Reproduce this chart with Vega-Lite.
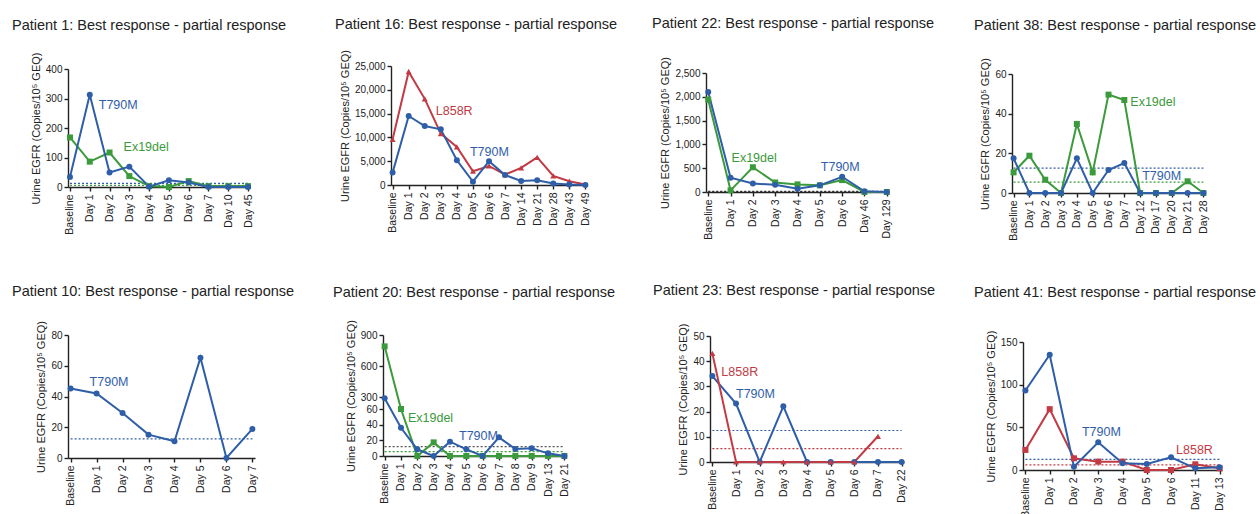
{
  "$schema": "https://vega.github.io/schema/vega-lite/v6.json",
  "padding": {"left": 12, "top": 16, "right": 5, "bottom": 5},
  "background": "white",
  "config": {
    "font": "Liberation Sans",
    "view": {"stroke": null},
    "legend": {"disable": true},
    "range": {"category": ["#3b9a3b", "#c23a44", "#2f5ea8"], "symbol": ["square", "triangle-up", "circle"]},
    "axis": {"grid": false, "domainColor": "#222", "domainWidth": 1.4, "tickColor": "#222", "tickWidth": 1.4, "tickSize": 4, "labelFontSize": 10.5, "labelColor": "#222", "titleFontSize": 11, "titleFontWeight": "normal", "titleColor": "#222", "titlePadding": 4, "labelPadding": 2},
    "axisX": {"labelAngle": -90, "labelPadding": 3},
    "axisY": {"labelFontSize": 10},
    "title": {"fontSize": 14.5, "fontWeight": "normal", "anchor": "start", "frame": "group", "color": "#222"},
    "text": {"font": "Liberation Sans", "fontSize": 12.5},
    "line": {"strokeWidth": 2},
    "point": {"filled": true, "size": 36, "opacity": 1}
  },
  "datasets": {
    "d": [
      {"patient": 1, "kind": "obs", "mutation": "Ex19del", "day": "Baseline", "value": 168},
      {"patient": 1, "kind": "obs", "mutation": "Ex19del", "day": "Day 1", "value": 86},
      {"patient": 1, "kind": "obs", "mutation": "Ex19del", "day": "Day 2", "value": 117},
      {"patient": 1, "kind": "obs", "mutation": "Ex19del", "day": "Day 3", "value": 37},
      {"patient": 1, "kind": "obs", "mutation": "Ex19del", "day": "Day 4", "value": 3},
      {"patient": 1, "kind": "obs", "mutation": "Ex19del", "day": "Day 5", "value": 0},
      {"patient": 1, "kind": "obs", "mutation": "Ex19del", "day": "Day 6", "value": 20},
      {"patient": 1, "kind": "obs", "mutation": "Ex19del", "day": "Day 7", "value": 3},
      {"patient": 1, "kind": "obs", "mutation": "Ex19del", "day": "Day 10", "value": 3},
      {"patient": 1, "kind": "obs", "mutation": "Ex19del", "day": "Day 45", "value": 3},
      {"patient": 1, "kind": "obs", "mutation": "T790M", "day": "Baseline", "value": 34},
      {"patient": 1, "kind": "obs", "mutation": "T790M", "day": "Day 1", "value": 313},
      {"patient": 1, "kind": "obs", "mutation": "T790M", "day": "Day 2", "value": 49},
      {"patient": 1, "kind": "obs", "mutation": "T790M", "day": "Day 3", "value": 69},
      {"patient": 1, "kind": "obs", "mutation": "T790M", "day": "Day 4", "value": 1},
      {"patient": 1, "kind": "obs", "mutation": "T790M", "day": "Day 5", "value": 23},
      {"patient": 1, "kind": "obs", "mutation": "T790M", "day": "Day 6", "value": 15},
      {"patient": 1, "kind": "obs", "mutation": "T790M", "day": "Day 7", "value": 0},
      {"patient": 1, "kind": "obs", "mutation": "T790M", "day": "Day 10", "value": 0},
      {"patient": 1, "kind": "obs", "mutation": "T790M", "day": "Day 45", "value": 0},
      {"patient": 1, "kind": "thr", "mutation": "T790M", "day": "Baseline", "end": "Day 45", "value": 12.5},
      {"patient": 1, "kind": "thr", "mutation": "Ex19del", "day": "Baseline", "end": "Day 45", "value": 5.5},
      {"patient": 1, "kind": "lab", "mutation": "T790M", "day": "Day 1", "value": 278, "text": "T790M"},
      {"patient": 1, "kind": "lab", "mutation": "Ex19del", "day": "Day 2", "value": 134, "text": "Ex19del"},

      {"patient": 16, "kind": "obs", "mutation": "L858R", "day": "Baseline", "value": 9600},
      {"patient": 16, "kind": "obs", "mutation": "L858R", "day": "Day 1", "value": 23800},
      {"patient": 16, "kind": "obs", "mutation": "L858R", "day": "Day 2", "value": 18100},
      {"patient": 16, "kind": "obs", "mutation": "L858R", "day": "Day 3", "value": 10800},
      {"patient": 16, "kind": "obs", "mutation": "L858R", "day": "Day 4", "value": 8000},
      {"patient": 16, "kind": "obs", "mutation": "L858R", "day": "Day 5", "value": 2900},
      {"patient": 16, "kind": "obs", "mutation": "L858R", "day": "Day 6", "value": 4000},
      {"patient": 16, "kind": "obs", "mutation": "L858R", "day": "Day 7", "value": 2200},
      {"patient": 16, "kind": "obs", "mutation": "L858R", "day": "Day 14", "value": 3600},
      {"patient": 16, "kind": "obs", "mutation": "L858R", "day": "Day 21", "value": 5800},
      {"patient": 16, "kind": "obs", "mutation": "L858R", "day": "Day 28", "value": 1900},
      {"patient": 16, "kind": "obs", "mutation": "L858R", "day": "Day 43", "value": 800},
      {"patient": 16, "kind": "obs", "mutation": "L858R", "day": "Day 49", "value": 100},
      {"patient": 16, "kind": "obs", "mutation": "T790M", "day": "Baseline", "value": 2600},
      {"patient": 16, "kind": "obs", "mutation": "T790M", "day": "Day 1", "value": 14500},
      {"patient": 16, "kind": "obs", "mutation": "T790M", "day": "Day 2", "value": 12400},
      {"patient": 16, "kind": "obs", "mutation": "T790M", "day": "Day 3", "value": 11700},
      {"patient": 16, "kind": "obs", "mutation": "T790M", "day": "Day 4", "value": 5200},
      {"patient": 16, "kind": "obs", "mutation": "T790M", "day": "Day 5", "value": 700},
      {"patient": 16, "kind": "obs", "mutation": "T790M", "day": "Day 6", "value": 5000},
      {"patient": 16, "kind": "obs", "mutation": "T790M", "day": "Day 7", "value": 2100},
      {"patient": 16, "kind": "obs", "mutation": "T790M", "day": "Day 14", "value": 850},
      {"patient": 16, "kind": "obs", "mutation": "T790M", "day": "Day 21", "value": 1000},
      {"patient": 16, "kind": "obs", "mutation": "T790M", "day": "Day 28", "value": 300},
      {"patient": 16, "kind": "obs", "mutation": "T790M", "day": "Day 43", "value": 100},
      {"patient": 16, "kind": "obs", "mutation": "T790M", "day": "Day 49", "value": 0},
      {"patient": 16, "kind": "lab", "mutation": "L858R", "day": "Day 3", "value": 15550, "text": "L858R"},
      {"patient": 16, "kind": "lab", "mutation": "T790M", "day": "Day 5", "value": 7000, "text": "T790M"},

      {"patient": 22, "kind": "obs", "mutation": "Ex19del", "day": "Baseline", "value": 1940},
      {"patient": 22, "kind": "obs", "mutation": "Ex19del", "day": "Day 1", "value": 35},
      {"patient": 22, "kind": "obs", "mutation": "Ex19del", "day": "Day 2", "value": 520},
      {"patient": 22, "kind": "obs", "mutation": "Ex19del", "day": "Day 3", "value": 200},
      {"patient": 22, "kind": "obs", "mutation": "Ex19del", "day": "Day 4", "value": 160},
      {"patient": 22, "kind": "obs", "mutation": "Ex19del", "day": "Day 5", "value": 140},
      {"patient": 22, "kind": "obs", "mutation": "Ex19del", "day": "Day 6", "value": 250},
      {"patient": 22, "kind": "obs", "mutation": "Ex19del", "day": "Day 46", "value": 0},
      {"patient": 22, "kind": "obs", "mutation": "Ex19del", "day": "Day 129", "value": 0},
      {"patient": 22, "kind": "obs", "mutation": "T790M", "day": "Baseline", "value": 2100},
      {"patient": 22, "kind": "obs", "mutation": "T790M", "day": "Day 1", "value": 300},
      {"patient": 22, "kind": "obs", "mutation": "T790M", "day": "Day 2", "value": 180},
      {"patient": 22, "kind": "obs", "mutation": "T790M", "day": "Day 3", "value": 150},
      {"patient": 22, "kind": "obs", "mutation": "T790M", "day": "Day 4", "value": 70},
      {"patient": 22, "kind": "obs", "mutation": "T790M", "day": "Day 5", "value": 140},
      {"patient": 22, "kind": "obs", "mutation": "T790M", "day": "Day 6", "value": 320},
      {"patient": 22, "kind": "obs", "mutation": "T790M", "day": "Day 46", "value": 14},
      {"patient": 22, "kind": "obs", "mutation": "T790M", "day": "Day 129", "value": 0},
      {"patient": 22, "kind": "thr", "mutation": "T790M", "day": "Baseline", "end": "Day 129", "value": 12.5},
      {"patient": 22, "kind": "thr", "mutation": "Ex19del", "day": "Baseline", "end": "Day 129", "value": 5.5},
      {"patient": 22, "kind": "lab", "mutation": "Ex19del", "day": "Day 1", "value": 720, "text": "Ex19del"},
      {"patient": 22, "kind": "lab", "mutation": "T790M", "day": "Day 5", "value": 530, "text": "T790M"},

      {"patient": 38, "kind": "obs", "mutation": "Ex19del", "day": "Baseline", "value": 10.4},
      {"patient": 38, "kind": "obs", "mutation": "Ex19del", "day": "Day 1", "value": 18.8},
      {"patient": 38, "kind": "obs", "mutation": "Ex19del", "day": "Day 2", "value": 6.7},
      {"patient": 38, "kind": "obs", "mutation": "Ex19del", "day": "Day 3", "value": 0},
      {"patient": 38, "kind": "obs", "mutation": "Ex19del", "day": "Day 4", "value": 34.8},
      {"patient": 38, "kind": "obs", "mutation": "Ex19del", "day": "Day 5", "value": 10.4},
      {"patient": 38, "kind": "obs", "mutation": "Ex19del", "day": "Day 6", "value": 49.6},
      {"patient": 38, "kind": "obs", "mutation": "Ex19del", "day": "Day 7", "value": 46.9},
      {"patient": 38, "kind": "obs", "mutation": "Ex19del", "day": "Day 12", "value": 0},
      {"patient": 38, "kind": "obs", "mutation": "Ex19del", "day": "Day 17", "value": 0},
      {"patient": 38, "kind": "obs", "mutation": "Ex19del", "day": "Day 20", "value": 0},
      {"patient": 38, "kind": "obs", "mutation": "Ex19del", "day": "Day 21", "value": 5.9},
      {"patient": 38, "kind": "obs", "mutation": "Ex19del", "day": "Day 28", "value": 0},
      {"patient": 38, "kind": "obs", "mutation": "T790M", "day": "Baseline", "value": 17.5},
      {"patient": 38, "kind": "obs", "mutation": "T790M", "day": "Day 1", "value": 0},
      {"patient": 38, "kind": "obs", "mutation": "T790M", "day": "Day 2", "value": 0},
      {"patient": 38, "kind": "obs", "mutation": "T790M", "day": "Day 3", "value": 0},
      {"patient": 38, "kind": "obs", "mutation": "T790M", "day": "Day 4", "value": 17.5},
      {"patient": 38, "kind": "obs", "mutation": "T790M", "day": "Day 5", "value": 0},
      {"patient": 38, "kind": "obs", "mutation": "T790M", "day": "Day 6", "value": 11.6},
      {"patient": 38, "kind": "obs", "mutation": "T790M", "day": "Day 7", "value": 15.1},
      {"patient": 38, "kind": "obs", "mutation": "T790M", "day": "Day 12", "value": 0},
      {"patient": 38, "kind": "obs", "mutation": "T790M", "day": "Day 17", "value": 0},
      {"patient": 38, "kind": "obs", "mutation": "T790M", "day": "Day 20", "value": 0},
      {"patient": 38, "kind": "obs", "mutation": "T790M", "day": "Day 21", "value": 0},
      {"patient": 38, "kind": "obs", "mutation": "T790M", "day": "Day 28", "value": 0},
      {"patient": 38, "kind": "thr", "mutation": "T790M", "day": "Baseline", "end": "Day 28", "value": 12.5},
      {"patient": 38, "kind": "thr", "mutation": "Ex19del", "day": "Baseline", "end": "Day 28", "value": 5.5},
      {"patient": 38, "kind": "lab", "mutation": "Ex19del", "day": "Day 7", "value": 46, "text": "Ex19del"},
      {"patient": 38, "kind": "lab", "mutation": "T790M", "day": "Day 12", "value": 8.7, "text": "T790M"},

      {"patient": 10, "kind": "obs", "mutation": "T790M", "day": "Baseline", "value": 45.2},
      {"patient": 10, "kind": "obs", "mutation": "T790M", "day": "Day 1", "value": 42},
      {"patient": 10, "kind": "obs", "mutation": "T790M", "day": "Day 2", "value": 29.3},
      {"patient": 10, "kind": "obs", "mutation": "T790M", "day": "Day 3", "value": 15.2},
      {"patient": 10, "kind": "obs", "mutation": "T790M", "day": "Day 4", "value": 10.9},
      {"patient": 10, "kind": "obs", "mutation": "T790M", "day": "Day 5", "value": 65.2},
      {"patient": 10, "kind": "obs", "mutation": "T790M", "day": "Day 6", "value": 0},
      {"patient": 10, "kind": "obs", "mutation": "T790M", "day": "Day 7", "value": 18.9},
      {"patient": 10, "kind": "thr", "mutation": "T790M", "day": "Baseline", "end": "Day 7", "value": 12.5},
      {"patient": 10, "kind": "lab", "mutation": "T790M", "day": "Baseline", "value": 49.3, "text": "T790M"},

      {"patient": 20, "kind": "obs", "mutation": "Ex19del", "day": "Baseline", "value": 790},
      {"patient": 20, "kind": "obs", "mutation": "Ex19del", "day": "Day 1", "value": 60},
      {"patient": 20, "kind": "obs", "mutation": "Ex19del", "day": "Day 2", "value": 0},
      {"patient": 20, "kind": "obs", "mutation": "Ex19del", "day": "Day 3", "value": 17.4},
      {"patient": 20, "kind": "obs", "mutation": "Ex19del", "day": "Day 4", "value": 0},
      {"patient": 20, "kind": "obs", "mutation": "Ex19del", "day": "Day 5", "value": 0},
      {"patient": 20, "kind": "obs", "mutation": "Ex19del", "day": "Day 6", "value": 0},
      {"patient": 20, "kind": "obs", "mutation": "Ex19del", "day": "Day 7", "value": 0},
      {"patient": 20, "kind": "obs", "mutation": "Ex19del", "day": "Day 8", "value": 0},
      {"patient": 20, "kind": "obs", "mutation": "Ex19del", "day": "Day 9", "value": 0},
      {"patient": 20, "kind": "obs", "mutation": "Ex19del", "day": "Day 13", "value": 0},
      {"patient": 20, "kind": "obs", "mutation": "Ex19del", "day": "Day 21", "value": 0},
      {"patient": 20, "kind": "obs", "mutation": "T790M", "day": "Baseline", "value": 275},
      {"patient": 20, "kind": "obs", "mutation": "T790M", "day": "Day 1", "value": 36},
      {"patient": 20, "kind": "obs", "mutation": "T790M", "day": "Day 2", "value": 8.5},
      {"patient": 20, "kind": "obs", "mutation": "T790M", "day": "Day 3", "value": 0},
      {"patient": 20, "kind": "obs", "mutation": "T790M", "day": "Day 4", "value": 18.3},
      {"patient": 20, "kind": "obs", "mutation": "T790M", "day": "Day 5", "value": 8.5},
      {"patient": 20, "kind": "obs", "mutation": "T790M", "day": "Day 6", "value": 0},
      {"patient": 20, "kind": "obs", "mutation": "T790M", "day": "Day 7", "value": 23.8},
      {"patient": 20, "kind": "obs", "mutation": "T790M", "day": "Day 8", "value": 9},
      {"patient": 20, "kind": "obs", "mutation": "T790M", "day": "Day 9", "value": 9.8},
      {"patient": 20, "kind": "obs", "mutation": "T790M", "day": "Day 13", "value": 3.4},
      {"patient": 20, "kind": "obs", "mutation": "T790M", "day": "Day 21", "value": 0},
      {"patient": 20, "kind": "thr", "mutation": "T790M", "day": "Baseline", "end": "Day 21", "value": 12},
      {"patient": 20, "kind": "thr", "mutation": "Ex19del", "day": "Baseline", "end": "Day 21", "value": 5.5},
      {"patient": 20, "kind": "lab", "mutation": "Ex19del", "day": "Day 1", "value": 48, "text": "Ex19del"},
      {"patient": 20, "kind": "lab", "mutation": "T790M", "day": "Day 4", "value": 26, "text": "T790M"},

      {"patient": 23, "kind": "obs", "mutation": "T790M", "day": "Baseline", "value": 34.1},
      {"patient": 23, "kind": "obs", "mutation": "T790M", "day": "Day 1", "value": 23.2},
      {"patient": 23, "kind": "obs", "mutation": "T790M", "day": "Day 2", "value": 0},
      {"patient": 23, "kind": "obs", "mutation": "T790M", "day": "Day 3", "value": 22.1},
      {"patient": 23, "kind": "obs", "mutation": "T790M", "day": "Day 4", "value": 0},
      {"patient": 23, "kind": "obs", "mutation": "T790M", "day": "Day 5", "value": 0},
      {"patient": 23, "kind": "obs", "mutation": "T790M", "day": "Day 6", "value": 0},
      {"patient": 23, "kind": "obs", "mutation": "T790M", "day": "Day 7", "value": 0},
      {"patient": 23, "kind": "obs", "mutation": "T790M", "day": "Day 22", "value": 0},
      {"patient": 23, "kind": "obs", "mutation": "L858R", "day": "Baseline", "value": 43.1},
      {"patient": 23, "kind": "obs", "mutation": "L858R", "day": "Day 1", "value": 0},
      {"patient": 23, "kind": "obs", "mutation": "L858R", "day": "Day 2", "value": 0},
      {"patient": 23, "kind": "obs", "mutation": "L858R", "day": "Day 3", "value": 0},
      {"patient": 23, "kind": "obs", "mutation": "L858R", "day": "Day 4", "value": 0},
      {"patient": 23, "kind": "obs", "mutation": "L858R", "day": "Day 5", "value": 0},
      {"patient": 23, "kind": "obs", "mutation": "L858R", "day": "Day 6", "value": 0},
      {"patient": 23, "kind": "obs", "mutation": "L858R", "day": "Day 7", "value": 10.2},
      {"patient": 23, "kind": "thr", "mutation": "T790M", "day": "Baseline", "end": "Day 22", "value": 12.5},
      {"patient": 23, "kind": "thr", "mutation": "L858R", "day": "Baseline", "end": "Day 22", "value": 5.3},
      {"patient": 23, "kind": "lab", "mutation": "L858R", "day": "Baseline", "value": 35.7, "text": "L858R"},
      {"patient": 23, "kind": "lab", "mutation": "T790M", "day": "Day 1", "value": 26.8, "text": "T790M"},

      {"patient": 41, "kind": "obs", "mutation": "L858R", "day": "Baseline", "value": 23.5},
      {"patient": 41, "kind": "obs", "mutation": "L858R", "day": "Day 1", "value": 71.3},
      {"patient": 41, "kind": "obs", "mutation": "L858R", "day": "Day 2", "value": 13.7},
      {"patient": 41, "kind": "obs", "mutation": "L858R", "day": "Day 3", "value": 9.8},
      {"patient": 41, "kind": "obs", "mutation": "L858R", "day": "Day 4", "value": 9.8},
      {"patient": 41, "kind": "obs", "mutation": "L858R", "day": "Day 5", "value": 0},
      {"patient": 41, "kind": "obs", "mutation": "L858R", "day": "Day 6", "value": 0},
      {"patient": 41, "kind": "obs", "mutation": "L858R", "day": "Day 11", "value": 6.7},
      {"patient": 41, "kind": "obs", "mutation": "L858R", "day": "Day 13", "value": 2},
      {"patient": 41, "kind": "obs", "mutation": "T790M", "day": "Baseline", "value": 93.2},
      {"patient": 41, "kind": "obs", "mutation": "T790M", "day": "Day 1", "value": 135},
      {"patient": 41, "kind": "obs", "mutation": "T790M", "day": "Day 2", "value": 3.9},
      {"patient": 41, "kind": "obs", "mutation": "T790M", "day": "Day 3", "value": 32.5},
      {"patient": 41, "kind": "obs", "mutation": "T790M", "day": "Day 4", "value": 7.8},
      {"patient": 41, "kind": "obs", "mutation": "T790M", "day": "Day 5", "value": 7},
      {"patient": 41, "kind": "obs", "mutation": "T790M", "day": "Day 6", "value": 14.9},
      {"patient": 41, "kind": "obs", "mutation": "T790M", "day": "Day 11", "value": 2},
      {"patient": 41, "kind": "obs", "mutation": "T790M", "day": "Day 13", "value": 3.1},
      {"patient": 41, "kind": "thr", "mutation": "T790M", "day": "Baseline", "end": "Day 13", "value": 12.5},
      {"patient": 41, "kind": "thr", "mutation": "L858R", "day": "Baseline", "end": "Day 13", "value": 5.9},
      {"patient": 41, "kind": "lab", "mutation": "T790M", "day": "Day 2", "value": 44, "text": "T790M"},
      {"patient": 41, "kind": "lab", "mutation": "L858R", "day": "Day 6", "value": 23.5, "text": "L858R"}
    ]
  },
  "data": {"name": "d"},
  "columns": 4,
  "spacing": {"row": 142, "column": 0},
  "bounds": "flush",
  "align": "each",
  "concat": [
    {
      "width": 315, "height": 121,
      "title": {"text": "Patient 1: Best response - partial response", "dx": -56, "offset": 19},
      "transform": [{"filter": "datum.patient == 1"}],
      "encoding": {
        "x": {"field": "day", "type": "ordinal", "scale": {"type": "point", "domain": ["Baseline", "Day 1", "Day 2", "Day 3", "Day 4", "Day 5", "Day 6", "Day 7", "Day 10", "Day 45"], "range": [0, 182], "padding": 0.1}, "axis": {"title": null}},
        "y": {"field": "value", "type": "quantitative", "scale": {"domain": [0, 400], "range": [121, 3], "nice": false, "zero": false}, "axis": {"values": [0, 100, 200, 300, 400], "title": "Urine EGFR (Copies/10⁵ GEQ)"}}
      },
      "layer": [
        {"transform": [{"filter": "datum.kind == 'thr'"}], "mark": {"type": "rule", "strokeDash": [2, 2], "strokeWidth": 1.2}, "encoding": {"x2": {"field": "end"}, "color": {"field": "mutation", "type": "nominal"}}},
        {"transform": [{"filter": "datum.kind == 'obs'"}], "mark": "line", "encoding": {"color": {"field": "mutation", "type": "nominal"}, "order": {"value": null}}},
        {"transform": [{"filter": "datum.kind == 'obs'"}], "mark": "point", "encoding": {"color": {"field": "mutation", "type": "nominal"}, "shape": {"field": "mutation", "type": "nominal"}}},
        {"transform": [{"filter": "datum.kind == 'lab' && datum.mutation == 'T790M'"}], "mark": {"type": "text", "align": "left", "dx": 9}, "encoding": {"text": {"field": "text"}, "color": {"field": "mutation", "type": "nominal"}}},
        {"transform": [{"filter": "datum.kind == 'lab' && datum.mutation == 'Ex19del'"}], "mark": {"type": "text", "align": "left", "dx": 14}, "encoding": {"text": {"field": "text"}, "color": {"field": "mutation", "type": "nominal"}}}
      ]
    },
    {
      "width": 323, "height": 119,
      "title": {"text": "Patient 16: Best response - partial response", "dx": -48, "offset": 17},
      "transform": [{"filter": "datum.patient == 16"}],
      "encoding": {
        "x": {"field": "day", "type": "ordinal", "scale": {"type": "point", "domain": ["Baseline", "Day 1", "Day 2", "Day 3", "Day 4", "Day 5", "Day 6", "Day 7", "Day 14", "Day 21", "Day 28", "Day 43", "Day 49"], "range": [8, 204], "padding": 0.1}, "axis": {"title": null}},
        "y": {"field": "value", "type": "quantitative", "scale": {"domain": [0, 25000], "range": [119, 0], "nice": false, "zero": false}, "axis": {"values": [0, 5000, 10000, 15000, 20000, 25000], "format": ",.0f", "offset": -8, "title": "Urine EGFR (Copies/10⁵ GEQ)"}}
      },
      "layer": [
        {"transform": [{"filter": "datum.kind == 'obs'"}], "mark": "line", "encoding": {"color": {"field": "mutation", "type": "nominal"}, "order": {"value": null}}},
        {"transform": [{"filter": "datum.kind == 'obs'"}], "mark": "point", "encoding": {"color": {"field": "mutation", "type": "nominal"}, "shape": {"field": "mutation", "type": "nominal"}}},
        {"transform": [{"filter": "datum.kind == 'lab' && datum.mutation == 'L858R'"}], "mark": {"type": "text", "align": "left", "dx": -5}, "encoding": {"text": {"field": "text"}, "color": {"field": "mutation", "type": "nominal"}}},
        {"transform": [{"filter": "datum.kind == 'lab' && datum.mutation == 'T790M'"}], "mark": {"type": "text", "align": "left", "dx": -3}, "encoding": {"text": {"field": "text"}, "color": {"field": "mutation", "type": "nominal"}}}
      ]
    },
    {
      "width": 306, "height": 126,
      "title": {"text": "Patient 22: Best response - partial response", "dx": -54, "offset": 25},
      "transform": [{"filter": "datum.patient == 22"}],
      "encoding": {
        "x": {"field": "day", "type": "ordinal", "scale": {"type": "point", "domain": ["Baseline", "Day 1", "Day 2", "Day 3", "Day 4", "Day 5", "Day 6", "Day 46", "Day 129"], "range": [0, 183], "padding": 0.1}, "axis": {"title": null}},
        "y": {"field": "value", "type": "quantitative", "scale": {"domain": [0, 2500], "range": [126, 7], "nice": false, "zero": false}, "axis": {"values": [0, 500, 1000, 1500, 2000, 2500], "format": ",.0f", "title": "Urine EGFR (Copies/10⁵ GEQ)"}}
      },
      "layer": [
        {"transform": [{"filter": "datum.kind == 'thr'"}], "mark": {"type": "rule", "strokeDash": [2, 2], "strokeWidth": 1.2, "color": "#333"}, "encoding": {"x2": {"field": "end"}}},
        {"transform": [{"filter": "datum.kind == 'obs'"}], "mark": "line", "encoding": {"color": {"field": "mutation", "type": "nominal"}, "order": {"value": null}}},
        {"transform": [{"filter": "datum.kind == 'obs'"}], "mark": "point", "encoding": {"color": {"field": "mutation", "type": "nominal"}, "shape": {"field": "mutation", "type": "nominal"}}},
        {"transform": [{"filter": "datum.kind == 'lab'"}], "mark": {"type": "text", "align": "left", "dx": 1}, "encoding": {"text": {"field": "text"}, "color": {"field": "mutation", "type": "nominal"}}}
      ]
    },
    {
      "width": 220, "height": 127,
      "title": {"text": "Patient 38: Best response - partial response", "dx": -38, "offset": 24},
      "transform": [{"filter": "datum.patient == 38"}],
      "encoding": {
        "x": {"field": "day", "type": "ordinal", "scale": {"type": "point", "domain": ["Baseline", "Day 1", "Day 2", "Day 3", "Day 4", "Day 5", "Day 6", "Day 7", "Day 12", "Day 17", "Day 20", "Day 21", "Day 28"], "range": [0, 193], "padding": 0.1}, "axis": {"title": null}},
        "y": {"field": "value", "type": "quantitative", "scale": {"domain": [0, 60], "range": [127, 8], "nice": false, "zero": false}, "axis": {"values": [0, 20, 40, 60], "title": "Urine EGFR (Copies/10⁵ GEQ)"}}
      },
      "layer": [
        {"transform": [{"filter": "datum.kind == 'thr'"}], "mark": {"type": "rule", "strokeDash": [2, 2], "strokeWidth": 1.2}, "encoding": {"x2": {"field": "end"}, "color": {"field": "mutation", "type": "nominal"}}},
        {"transform": [{"filter": "datum.kind == 'obs'"}], "mark": "line", "encoding": {"color": {"field": "mutation", "type": "nominal"}, "order": {"value": null}}},
        {"transform": [{"filter": "datum.kind == 'obs'"}], "mark": "point", "encoding": {"color": {"field": "mutation", "type": "nominal"}, "shape": {"field": "mutation", "type": "nominal"}}},
        {"transform": [{"filter": "datum.kind == 'lab' && datum.mutation == 'Ex19del'"}], "mark": {"type": "text", "align": "left", "dx": 6}, "encoding": {"text": {"field": "text"}, "color": {"field": "mutation", "type": "nominal"}}},
        {"transform": [{"filter": "datum.kind == 'lab' && datum.mutation == 'T790M'"}], "mark": {"type": "text", "align": "left", "dx": 2}, "encoding": {"text": {"field": "text"}, "color": {"field": "mutation", "type": "nominal"}}}
      ]
    },
    {
      "width": 315, "height": 123,
      "title": {"text": "Patient 10: Best response - partial response", "dx": -56, "offset": 21},
      "transform": [{"filter": "datum.patient == 10"}],
      "encoding": {
        "x": {"field": "day", "type": "ordinal", "scale": {"type": "point", "domain": ["Baseline", "Day 1", "Day 2", "Day 3", "Day 4", "Day 5", "Day 6", "Day 7"], "range": [0, 187], "padding": 0.1}, "axis": {"title": null}},
        "y": {"field": "value", "type": "quantitative", "scale": {"domain": [0, 80], "range": [123, 0], "nice": false, "zero": false}, "axis": {"values": [0, 20, 40, 60, 80], "title": "Urine EGFR (Copies/10⁵ GEQ)"}}
      },
      "layer": [
        {"transform": [{"filter": "datum.kind == 'thr'"}], "mark": {"type": "rule", "strokeDash": [2, 2], "strokeWidth": 1.2}, "encoding": {"x2": {"field": "end"}, "color": {"field": "mutation", "type": "nominal"}}},
        {"transform": [{"filter": "datum.kind == 'obs'"}], "mark": "line", "encoding": {"color": {"field": "mutation", "type": "nominal"}, "order": {"value": null}}},
        {"transform": [{"filter": "datum.kind == 'obs'"}], "mark": "point", "encoding": {"color": {"field": "mutation", "type": "nominal"}, "shape": {"field": "mutation", "type": "nominal"}}},
        {"transform": [{"filter": "datum.kind == 'lab'"}], "mark": {"type": "text", "align": "left", "dx": 19}, "encoding": {"text": {"field": "text"}, "color": {"field": "mutation", "type": "nominal"}}}
      ]
    },
    {
      "width": 323, "height": 121,
      "title": {"text": "Patient 20: Best response - partial response", "dx": -50, "offset": 19},
      "transform": [{"filter": "datum.patient == 20"}],
      "encoding": {
        "x": {"field": "day", "type": "ordinal", "scale": {"type": "point", "domain": ["Baseline", "Day 1", "Day 2", "Day 3", "Day 4", "Day 5", "Day 6", "Day 7", "Day 8", "Day 9", "Day 13", "Day 21"], "range": [0, 183], "padding": 0.1}, "axis": {"title": null}},
        "y": {"field": "value", "type": "quantitative", "scale": {"domain": [0, 60, 300, 900], "range": [121, 74, 62, 0], "nice": false, "zero": false}, "axis": {"values": [0, 20, 40, 60, 300, 600, 900], "title": "Urine EGFR (Copies/10⁵ GEQ)"}}
      },
      "layer": [
        {"transform": [{"filter": "datum.kind == 'thr' && datum.mutation == 'T790M'"}], "mark": {"type": "rule", "strokeDash": [2, 2], "strokeWidth": 1.2, "color": "#555"}, "encoding": {"x2": {"field": "end"}}},
        {"transform": [{"filter": "datum.kind == 'thr' && datum.mutation == 'Ex19del'"}], "mark": {"type": "rule", "strokeDash": [2, 2], "strokeWidth": 1.2}, "encoding": {"x2": {"field": "end"}, "color": {"field": "mutation", "type": "nominal"}}},
        {"transform": [{"filter": "datum.kind == 'obs'"}], "mark": "line", "encoding": {"color": {"field": "mutation", "type": "nominal"}, "order": {"value": null}}},
        {"transform": [{"filter": "datum.kind == 'obs'"}], "mark": "point", "encoding": {"color": {"field": "mutation", "type": "nominal"}, "shape": {"field": "mutation", "type": "nominal"}}},
        {"transform": [{"filter": "datum.kind == 'lab' && datum.mutation == 'Ex19del'"}], "mark": {"type": "text", "align": "left", "dx": 7}, "encoding": {"text": {"field": "text"}, "color": {"field": "mutation", "type": "nominal"}}},
        {"transform": [{"filter": "datum.kind == 'lab' && datum.mutation == 'T790M'"}], "mark": {"type": "text", "align": "left", "dx": 9}, "encoding": {"text": {"field": "text"}, "color": {"field": "mutation", "type": "nominal"}}}
      ]
    },
    {
      "width": 306, "height": 127,
      "title": {"text": "Patient 23: Best response - partial response", "dx": -53, "offset": 25},
      "transform": [{"filter": "datum.patient == 23"}],
      "encoding": {
        "x": {"field": "day", "type": "ordinal", "scale": {"type": "point", "domain": ["Baseline", "Day 1", "Day 2", "Day 3", "Day 4", "Day 5", "Day 6", "Day 7", "Day 22"], "range": [4, 198], "padding": 0.1}, "axis": {"title": null}},
        "y": {"field": "value", "type": "quantitative", "scale": {"domain": [0, 50], "range": [127, 1], "nice": false, "zero": false}, "axis": {"values": [0, 10, 20, 30, 40, 50], "offset": -4, "title": "Urine EGFR (Copies/10⁵ GEQ)"}}
      },
      "layer": [
        {"transform": [{"filter": "datum.kind == 'thr'"}], "mark": {"type": "rule", "strokeDash": [2, 2], "strokeWidth": 1.2}, "encoding": {"x2": {"field": "end"}, "color": {"field": "mutation", "type": "nominal"}}},
        {"transform": [{"filter": "datum.kind == 'obs'"}], "mark": "line", "encoding": {"color": {"field": "mutation", "type": "nominal"}, "order": {"value": null}}},
        {"transform": [{"filter": "datum.kind == 'obs'"}], "mark": "point", "encoding": {"color": {"field": "mutation", "type": "nominal"}, "shape": {"field": "mutation", "type": "nominal"}}},
        {"transform": [{"filter": "datum.kind == 'lab' && datum.mutation == 'L858R'"}], "mark": {"type": "text", "align": "left", "dx": 9}, "encoding": {"text": {"field": "text"}, "color": {"field": "mutation", "type": "nominal"}}},
        {"transform": [{"filter": "datum.kind == 'lab' && datum.mutation == 'T790M'"}], "mark": {"type": "text", "align": "left", "dx": 0}, "encoding": {"text": {"field": "text"}, "color": {"field": "mutation", "type": "nominal"}}}
      ]
    },
    {
      "width": 220, "height": 135,
      "title": {"text": "Patient 41: Best response - partial response", "dx": -38, "offset": 30},
      "transform": [{"filter": "datum.patient == 41"}],
      "encoding": {
        "x": {"field": "day", "type": "ordinal", "scale": {"type": "point", "domain": ["Baseline", "Day 1", "Day 2", "Day 3", "Day 4", "Day 5", "Day 6", "Day 11", "Day 13"], "range": [11, 210], "padding": 0.1}, "axis": {"title": null}},
        "y": {"field": "value", "type": "quantitative", "scale": {"domain": [0, 150], "range": [135, 7], "nice": false, "zero": false}, "axis": {"values": [0, 50, 100, 150], "offset": -11, "title": "Urine EGFR (Copies/10⁵ GEQ)"}}
      },
      "layer": [
        {"transform": [{"filter": "datum.kind == 'thr'"}], "mark": {"type": "rule", "strokeDash": [2, 2], "strokeWidth": 1.2}, "encoding": {"x2": {"field": "end"}, "color": {"field": "mutation", "type": "nominal"}}},
        {"transform": [{"filter": "datum.kind == 'obs'"}], "mark": "line", "encoding": {"color": {"field": "mutation", "type": "nominal"}, "order": {"value": null}}},
        {"transform": [{"filter": "datum.kind == 'obs' && datum.mutation == 'L858R'"}], "mark": {"type": "point", "shape": "square"}, "encoding": {"color": {"field": "mutation", "type": "nominal"}}},
        {"transform": [{"filter": "datum.kind == 'obs' && datum.mutation == 'T790M'"}], "mark": "point", "encoding": {"color": {"field": "mutation", "type": "nominal"}, "shape": {"field": "mutation", "type": "nominal"}}},
        {"transform": [{"filter": "datum.kind == 'lab' && datum.mutation == 'T790M'"}], "mark": {"type": "text", "align": "left", "dx": 8}, "encoding": {"text": {"field": "text"}, "color": {"field": "mutation", "type": "nominal"}}},
        {"transform": [{"filter": "datum.kind == 'lab' && datum.mutation == 'L858R'"}], "mark": {"type": "text", "align": "left", "dx": 5}, "encoding": {"text": {"field": "text"}, "color": {"field": "mutation", "type": "nominal"}}}
      ]
    }
  ]
}
